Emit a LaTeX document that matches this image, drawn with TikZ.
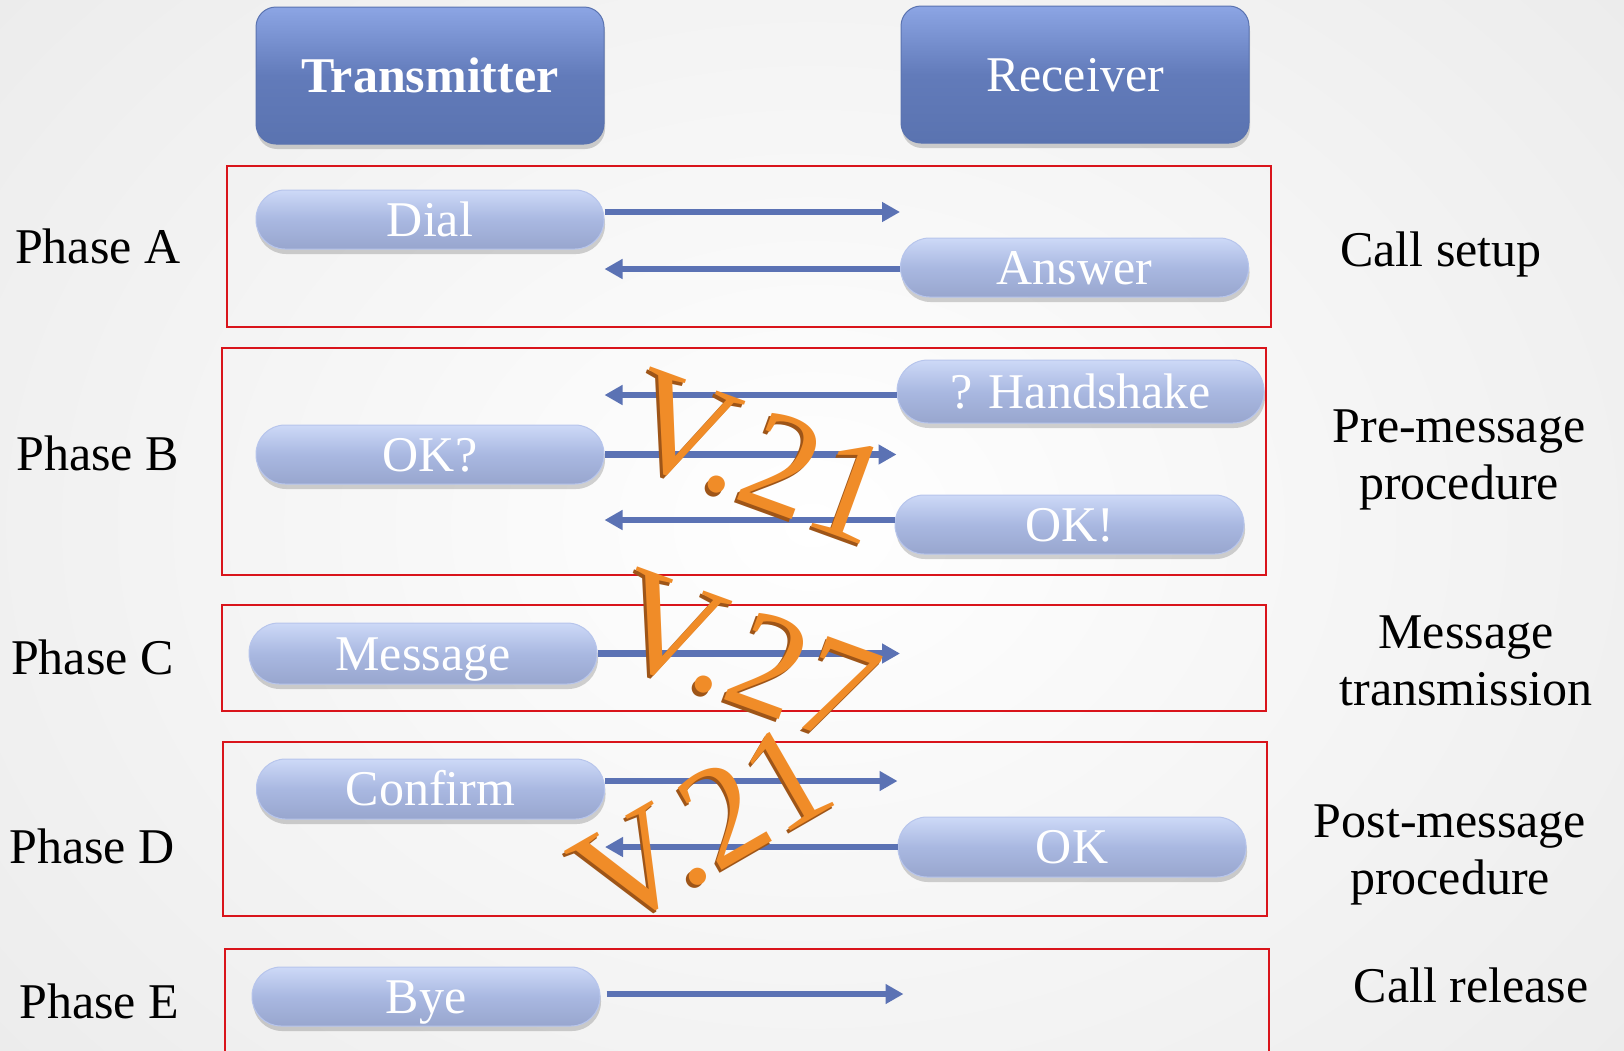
\documentclass[tikz,border=0pt]{standalone}
\usepackage{fontspec}
\setmainfont{Liberation Serif}
\usetikzlibrary{arrows.meta,shadows}
\definecolor{arrowblue}{HTML}{5B72B4}
\definecolor{boxred}{HTML}{D9141B}
\definecolor{bggray}{HTML}{EBEBEB}
\definecolor{pillTop}{HTML}{CDD9F7}
\definecolor{pillMid}{HTML}{A9B8E1}
\definecolor{pillBot}{HTML}{98A6CE}
\definecolor{pillEdge}{HTML}{B7C5EC}
\definecolor{hdrTop}{HTML}{8CA5E4}
\definecolor{hdrMid}{HTML}{627BBA}
\definecolor{hdrBot}{HTML}{5A73B0}
\definecolor{vface}{HTML}{F08C28}
\definecolor{vside}{HTML}{9E5518}
\newcommand\bigtxt{\fontsize{50}{57}\selectfont}
\newcommand\hugetxt{\fontsize{145}{145}\selectfont}
\tikzset{
  pill/.style={rectangle, rounded corners=29pt, minimum width=348pt, minimum height=59pt,
    inner sep=0pt, text height=33pt, text depth=0pt, shading=axis,
    top color=pillTop, bottom color=pillBot, middle color=pillMid,
    draw=pillEdge, line width=1pt, text=white, font=\bigtxt,
    drop shadow={opacity=0.25, shadow xshift=1pt, shadow yshift=-5pt, fill=black!70}},
  hdr/.style={rectangle, rounded corners=20pt, minimum width=348pt, minimum height=137pt,
    inner sep=0pt, text height=33pt, text depth=0pt, shading=axis,
    top color=hdrTop, bottom color=hdrBot, middle color=hdrMid,
    draw=hdrBot, line width=1pt, text=white, font=\bigtxt,
    drop shadow={opacity=0.25, shadow xshift=1pt, shadow yshift=-5pt, fill=black!70}},
  redbox/.style={draw=boxred, line width=2.3pt},
  arr/.style={draw=arrowblue, line width=6.5pt, -{Triangle[length=18pt,width=19pt]}},
  lbl/.style={font=\bigtxt, text=black, inner sep=0pt},
  rlbl/.style={font=\bigtxt, text=black, inner sep=0pt, align=center},
  vtxt/.style={font=\hugetxt, inner sep=0pt}
}
\begin{document}
\begin{tikzpicture}[x=1pt,y=-1pt]
\useasboundingbox (0,0) rectangle (1624,1050);
\clip (0,0) rectangle (1624,1050);
\shade[inner color=white, outer color=bggray] (-300,-350) rectangle (1924,1400);

% headers
\node[hdr] (tx) at (430,75.5) {\bfseries Transmitter};
\node[hdr] (rx) at (1075,74.5) {Receiver};

% phase boxes
\draw[redbox] (227,166) rectangle (1271,327);
\draw[redbox] (222,348) rectangle (1266,575);
\draw[redbox] (222,605) rectangle (1266,711);
\draw[redbox] (223,742) rectangle (1267,916);
\draw[redbox] (225,949) rectangle (1269,1070);

% left labels
\node[lbl, anchor=base west] (pa) at (15,263) {Phase A};
\node[lbl, anchor=base west] (pb) at (16,470) {Phase B};
\node[lbl, anchor=base west] (pc) at (11,674) {Phase C};
\node[lbl, anchor=base west] (pd) at (9,863) {Phase D};
\node[lbl, anchor=base west] (pe) at (19,1018) {Phase E};

% right labels
\node[lbl, anchor=base] (ra) at (1441,266) {Call setup};
\node[rlbl, anchor=base] (rb) at (1459,499) {Pre-message\\procedure};
\node[rlbl, anchor=base] (rc) at (1466,705) {Message\\transmission};
\node[rlbl, anchor=base] (rd) at (1450,894) {Post-message\\procedure};
\node[lbl, anchor=base] (re) at (1471,1002) {Call release};

% pills
\node[pill] (dial) at (430,219.5) {Dial};
\node[pill] (answer) at (1074.5,267.5) {Answer};
\node[pill, minimum width=367pt, minimum height=63pt, rounded corners=31pt] (hand) at (1080.5,391.5) {? Handshake};
\node[pill] (okq) at (430,454.5) {OK?};
\node[pill, minimum width=349pt] (okx) at (1069.5,524.5) {OK!};
\node[pill, minimum height=61pt, rounded corners=30pt] (msg) at (423,653.5) {Message};
\node[pill, minimum height=60pt] (conf) at (430.5,789) {Confirm};
\node[pill, minimum height=60pt] (ok) at (1072,847) {OK};
\node[pill] (bye) at (426,996.5) {Bye};

% arrows
\draw[arr] ([yshift=7.5pt]dial.east) -- ([yshift=7.5pt]dial.east -| answer.west);
\draw[arr] ([yshift=-1.5pt]answer.west) -- ([yshift=-1.5pt]answer.west -| dial.east);
\draw[arr] ([yshift=-3.5pt]hand.west) -- ([yshift=-3.5pt]hand.west -| okq.east);
\draw[arr] (okq.east) -- (okq.east -| hand.west);
\draw[arr] ([yshift=4.5pt]okx.west) -- ([yshift=4.5pt]okx.west -| okq.east);
\draw[arr] (msg.east) -- (msg.east -| answer.west);
\draw[arr] ([yshift=8pt]conf.east) -- ([yshift=8pt]conf.east -| ok.west);
\draw[arr] (ok.west) -- (ok.west -| conf.east);
\draw[arr, shorten <=6pt] ([yshift=2.5pt]bye.east) -- ([yshift=2.5pt,xshift=6pt]bye.east -| ok.west);

% 3D V labels
\node[vtxt, text=vside, rotate=-20] (vasd) at (755.5,460.5) {V.21};
\node[vtxt, text=vside, rotate=-20] (vbsd) at (742.5,660.5) {V.27};
\node[vtxt, text=vside, rotate=30] (vcsd) at (700.5,830.5) {V.21};
\node[vtxt, text=vface, rotate=-20] (va) at (758,457) {V.21};
\node[vtxt, text=vface, rotate=-20] (vb) at (745,657) {V.27};
\node[vtxt, text=vface, rotate=30] (vc) at (703,827) {V.21};
\end{tikzpicture}
\end{document}
